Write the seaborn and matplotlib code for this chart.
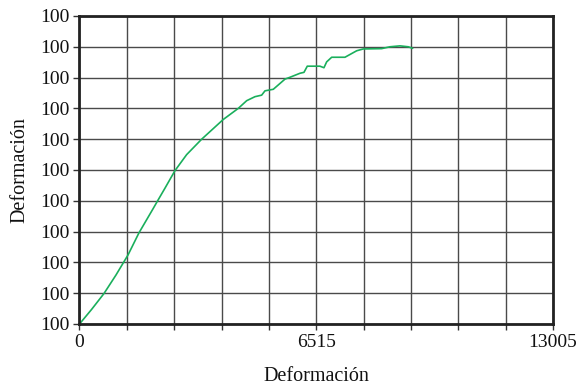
import numpy as np
import pandas as pd
import matplotlib
matplotlib.use("Agg")
import matplotlib.pyplot as plt
import seaborn as sns

x_vals = [0, 330, 673, 1002, 1332, 1634, 2010, 2156, 2348, 2623, 2944, 3356, 3949, 4361,
          4592, 4820, 5004, 5095, 5323, 5644, 5781, 6056, 6166, 6257, 6605, 6715, 6789,
          6927, 7292, 7613, 7795, 8300, 8528, 8803, 9031, 9151]
y_vals = [0.0, 0.47, 0.99, 1.59, 2.24, 2.96, 3.72, 4.02, 4.41, 4.98, 5.5, 6.0, 6.64, 7.0,
          7.25, 7.38, 7.43, 7.57, 7.62, 7.95, 8.01, 8.14, 8.17, 8.37, 8.37, 8.32, 8.51,
          8.66, 8.66, 8.87, 8.93, 8.94, 9.0, 9.03, 9.0, 8.95]
x_tick_labels = ["0", "", "", "", "", "6515", "", "", "", "", "13005"]
y_tick_labels = ["100"] * 11
x_label = "Deformación"
y_label = "Deformación"

sns.set_theme(style="white")
plt.rcParams['font.family'] = ['Liberation Serif', 'DejaVu Serif']

fig = plt.figure(figsize=(5.79, 3.87), dpi=100)
ax = fig.add_axes([0.1373, 0.1628, 0.955 - 0.1373, 0.9587 - 0.1628])

df = pd.DataFrame({"x": x_vals, "y": y_vals})
sns.lineplot(data=df, x="x", y="y", sort=False, ax=ax, color="#1aaf5c", linewidth=1.2)

xmax = 13005
ax.set_xlim(0, xmax)
ax.set_ylim(0, 10)
xt = [i * xmax / 10 for i in range(11)]
ax.set_xticks(xt)
ax.set_xticklabels(x_tick_labels, fontsize=14)
ax.set_yticks(range(11))
ax.set_yticklabels(y_tick_labels, fontsize=14)
ax.grid(True, color="#4a4a4a", linewidth=1.0)
ax.set_axisbelow(True)
for s in ax.spines.values():
    s.set_color("#222222")
    s.set_linewidth(2.0)
ax.tick_params(axis="both", direction="out", length=4, width=1, color="#333333",
               colors="#111111", pad=3, bottom=True, left=True)
ax.set_xlabel(x_label, fontsize=14.5, labelpad=12, color="#111111")
ax.set_ylabel(y_label, fontsize=14.5, labelpad=8, color="#111111")

fig.savefig("out.png", dpi=100)
